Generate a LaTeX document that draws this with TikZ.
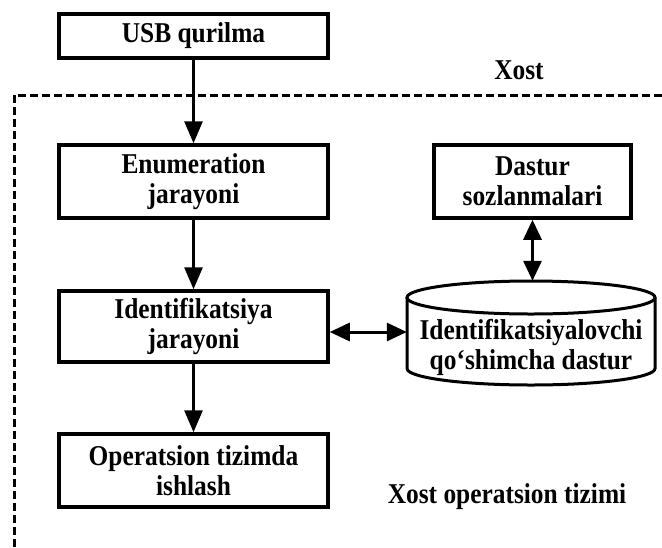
\documentclass[tikz,border=0pt]{standalone}
\usepackage{fontspec}
\setmainfont[FakeStretch=0.885]{Liberation Serif}
\usetikzlibrary{arrows.meta}
\begin{document}
\begin{tikzpicture}[x=1pt,y=-1pt,
  every node/.style={font=\fontsize{28.7}{30}\selectfont\bfseries, align=center, inner sep=0pt},
  blockbox/.style={draw, line width=3.5pt, minimum width=269pt},
  flow/.style={line width=3pt, -{Triangle[length=22pt,width=18pt]}},
  biflow/.style={line width=3pt, {Triangle[length=20pt,width=18pt]}-{Triangle[length=20pt,width=18pt]}},
  hostline/.style={line width=3pt, dash pattern=on 8pt off 4pt}]
  \useasboundingbox (0,0) rectangle (662,547);

  % host boundary
  \draw[hostline] (14,547) -- (14,95) -- (662,95);

  % main chain
  \node[blockbox, minimum height=44pt] (usb) at (193.5,36) {USB qurilma};
  \node[blockbox, minimum height=73pt] (enum) at (193.5,181.5) {Enumeration\\jarayoni};
  \node[blockbox, minimum height=71pt] (idf) at (193.5,326.5) {Identifikatsiya\\jarayoni};
  \node[blockbox, minimum height=73pt] (os) at (193.5,470.5) {Operatsion tizimda\\ishlash};

  % settings and database
  \node[blockbox, minimum width=197pt, minimum height=73pt] (cfg) at (532.5,181.5) {Dastur\\sozlanmalari};
  \node[minimum width=248pt, minimum height=104pt] (cyl) at (531,333) {};
  \draw[line width=3pt] (531,297.5) ellipse [x radius=124pt, y radius=16.5pt];
  \draw[line width=3pt] (407,297.5) -- (407,368.5)
    arc[start angle=180, end angle=360, x radius=124pt, y radius=16.5pt] -- (655,297.5);
  \node (cyltext) at (531,347) {Identifikatsiyalovchi\\qo‘shimcha dastur};

  % labels
  \node (host) at (519,70) {Xost};
  \node (hostos) at (507,497) {Xost operatsion tizimi};

  % connectors
  \draw[flow] (usb.south) -- (enum.north);
  \draw[flow] (enum.south) -- (idf.north);
  \draw[flow] (idf.south) -- (os.north);
  \draw[biflow] ([yshift=-5.5pt]idf.east) -- ([yshift=-5.5pt]idf.east -| cyl.west);
  \draw[biflow] (cfg.south) -- (cfg.south |- cyl.north);
\end{tikzpicture}
\end{document}
